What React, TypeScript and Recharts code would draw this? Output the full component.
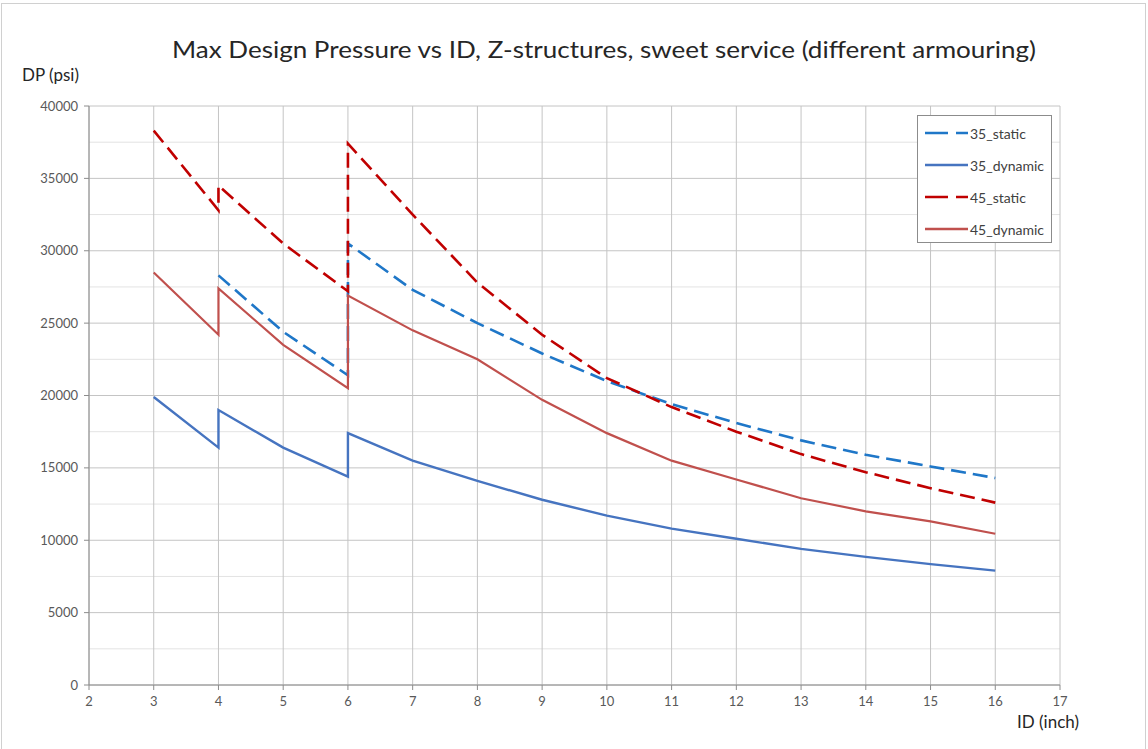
import React from 'react';
import { LineChart, Line, XAxis, YAxis, CartesianGrid } from 'recharts';

// ID (inch) positions; the duplicated 4 and 6 give the vertical steps
const idsFull = [3, 4, 4, 5, 6, 6, 7, 8, 9, 10, 11, 12, 13, 14, 15, 16];
const idsStatic35 = [4, 5, 6, 6, 7, 8, 9, 10, 11, 12, 13, 14, 15, 16];

// max design pressure (psi)
const static35 = [28300, 24400, 21400, 30500, 27300, 25000, 22900, 21000, 19400, 18100, 16900, 15900, 15100, 14300];
const dynamic35 = [19900, 16400, 19000, 16400, 14400, 17400, 15500, 14100, 12800, 11700, 10800, 10100, 9400, 8850, 8350, 7900];
const static45 = [38300, 32800, 34500, 30500, 27200, 37400, 32500, 27800, 24200, 21200, 19200, 17500, 15950, 14700, 13600, 12600];
const dynamic45 = [28500, 24200, 27400, 23500, 20500, 26900, 24500, 22500, 19700, 17400, 15500, 14200, 12900, 12000, 11300, 10450];

const xTicks = [2, 3, 4, 5, 6, 7, 8, 9, 10, 11, 12, 13, 14, 15, 16, 17];
const yTicks = [0, 5000, 10000, 15000, 20000, 25000, 30000, 35000, 40000];
const yMinor = [2500, 7500, 12500, 17500, 22500, 27500, 32500, 37500];

const toRows = (ids: number[], vals: number[]) => ids.map((id, i) => ({ id, dp: vals[i] }));

const series = [
    { name: '35_static', data: toRows(idsStatic35, static35), color: '#1F77C8', dash: '15 7', width: 2.6 },
    { name: '35_dynamic', data: toRows(idsFull, dynamic35), color: '#4674C0', dash: undefined, width: 2.4 },
    { name: '45_static', data: toRows(idsFull, static45), color: '#C00000', dash: '15 7', width: 2.6 },
    { name: '45_dynamic', data: toRows(idsFull, dynamic45), color: '#C0504D', dash: undefined, width: 2.2 },
];

const FONT = 'Lato, "Open Sans", sans-serif';

function LegendBox() {
    return (
        <div style={{ position: 'absolute', left: 917, top: 115, width: 135, height: 128, border: '1px solid #8c8c8c', background: '#fff', boxSizing: 'border-box', paddingTop: 1 }}>
            {series.map((s) => (
                <div key={s.name} style={{ display: 'flex', alignItems: 'center', height: 32 }}>
                    <svg width={44} height={10} style={{ marginLeft: 7 }}>
                        <line x1={0} y1={5} x2={43} y2={5} stroke={s.color} strokeWidth={2.5} strokeDasharray={s.dash ? '23 8' : undefined} />
                    </svg>
                    <span style={{ fontFamily: FONT, fontSize: 14, color: '#404040', marginLeft: 1 }}>{s.name}</span>
                </div>
            ))}
        </div>
    );
}

export default function App() {
    return (
        <div style={{ position: 'absolute', left: 0, top: 0, width: 1148, height: 749, background: '#fff', overflow: 'hidden' }}>
            <div style={{ position: 'absolute', left: 1, top: 3, width: 1145, height: 760, border: '1px solid #d0d0d0', boxSizing: 'border-box' }} />
            <svg width={1148} height={749} style={{ position: 'absolute', left: 0, top: 0 }}>
                <text x={604} y={58} textAnchor="middle" fontFamily={FONT} fontSize={24} fill="#262626" textLength={864} lengthAdjust="spacingAndGlyphs">
                    Max Design Pressure vs ID, Z-structures, sweet service (different armouring)
                </text>
                <text x={22} y={81} fontFamily={FONT} fontSize={17} fill="#262626">DP (psi)</text>
                <text x={1017} y={728} fontFamily={FONT} fontSize={17} fill="#262626">ID (inch)</text>
            </svg>
            <div style={{ position: 'absolute', left: 0, top: 0 }}>
                <LineChart width={1148} height={749} margin={{ top: 106, right: 88, bottom: 34, left: 29 }}>
                    <CartesianGrid horizontal={true} vertical={false} horizontalValues={yMinor} stroke="#e3e3e3" strokeWidth={1} />
                    <CartesianGrid horizontal={true} vertical={true} horizontalValues={yTicks} verticalValues={xTicks} stroke="#c4c4c4" strokeWidth={1} />
                    <XAxis
                        dataKey="id"
                        type="number"
                        domain={[2, 17]}
                        ticks={xTicks}
                        allowDuplicatedCategory={false}
                        height={30}
                        tickSize={5}
                        stroke="#8c8c8c"
                        tick={{ fill: '#595959', fontSize: 13, fontFamily: FONT, dy: 5 }}
                    />
                    <YAxis
                        type="number"
                        domain={[0, 40000]}
                        ticks={yTicks}
                        width={60}
                        tickSize={5}
                        stroke="#8c8c8c"
                        tick={{ fill: '#595959', fontSize: 13, fontFamily: FONT, dx: -4 }}
                    />
                    {series.map((s) => (
                        <Line
                            key={s.name}
                            data={s.data}
                            dataKey="dp"
                            name={s.name}
                            type="linear"
                            stroke={s.color}
                            strokeWidth={s.width}
                            strokeDasharray={s.dash}
                            dot={false}
                            activeDot={false}
                            isAnimationActive={false}
                        />
                    ))}
                </LineChart>
            </div>
            <LegendBox />
        </div>
    );
}
